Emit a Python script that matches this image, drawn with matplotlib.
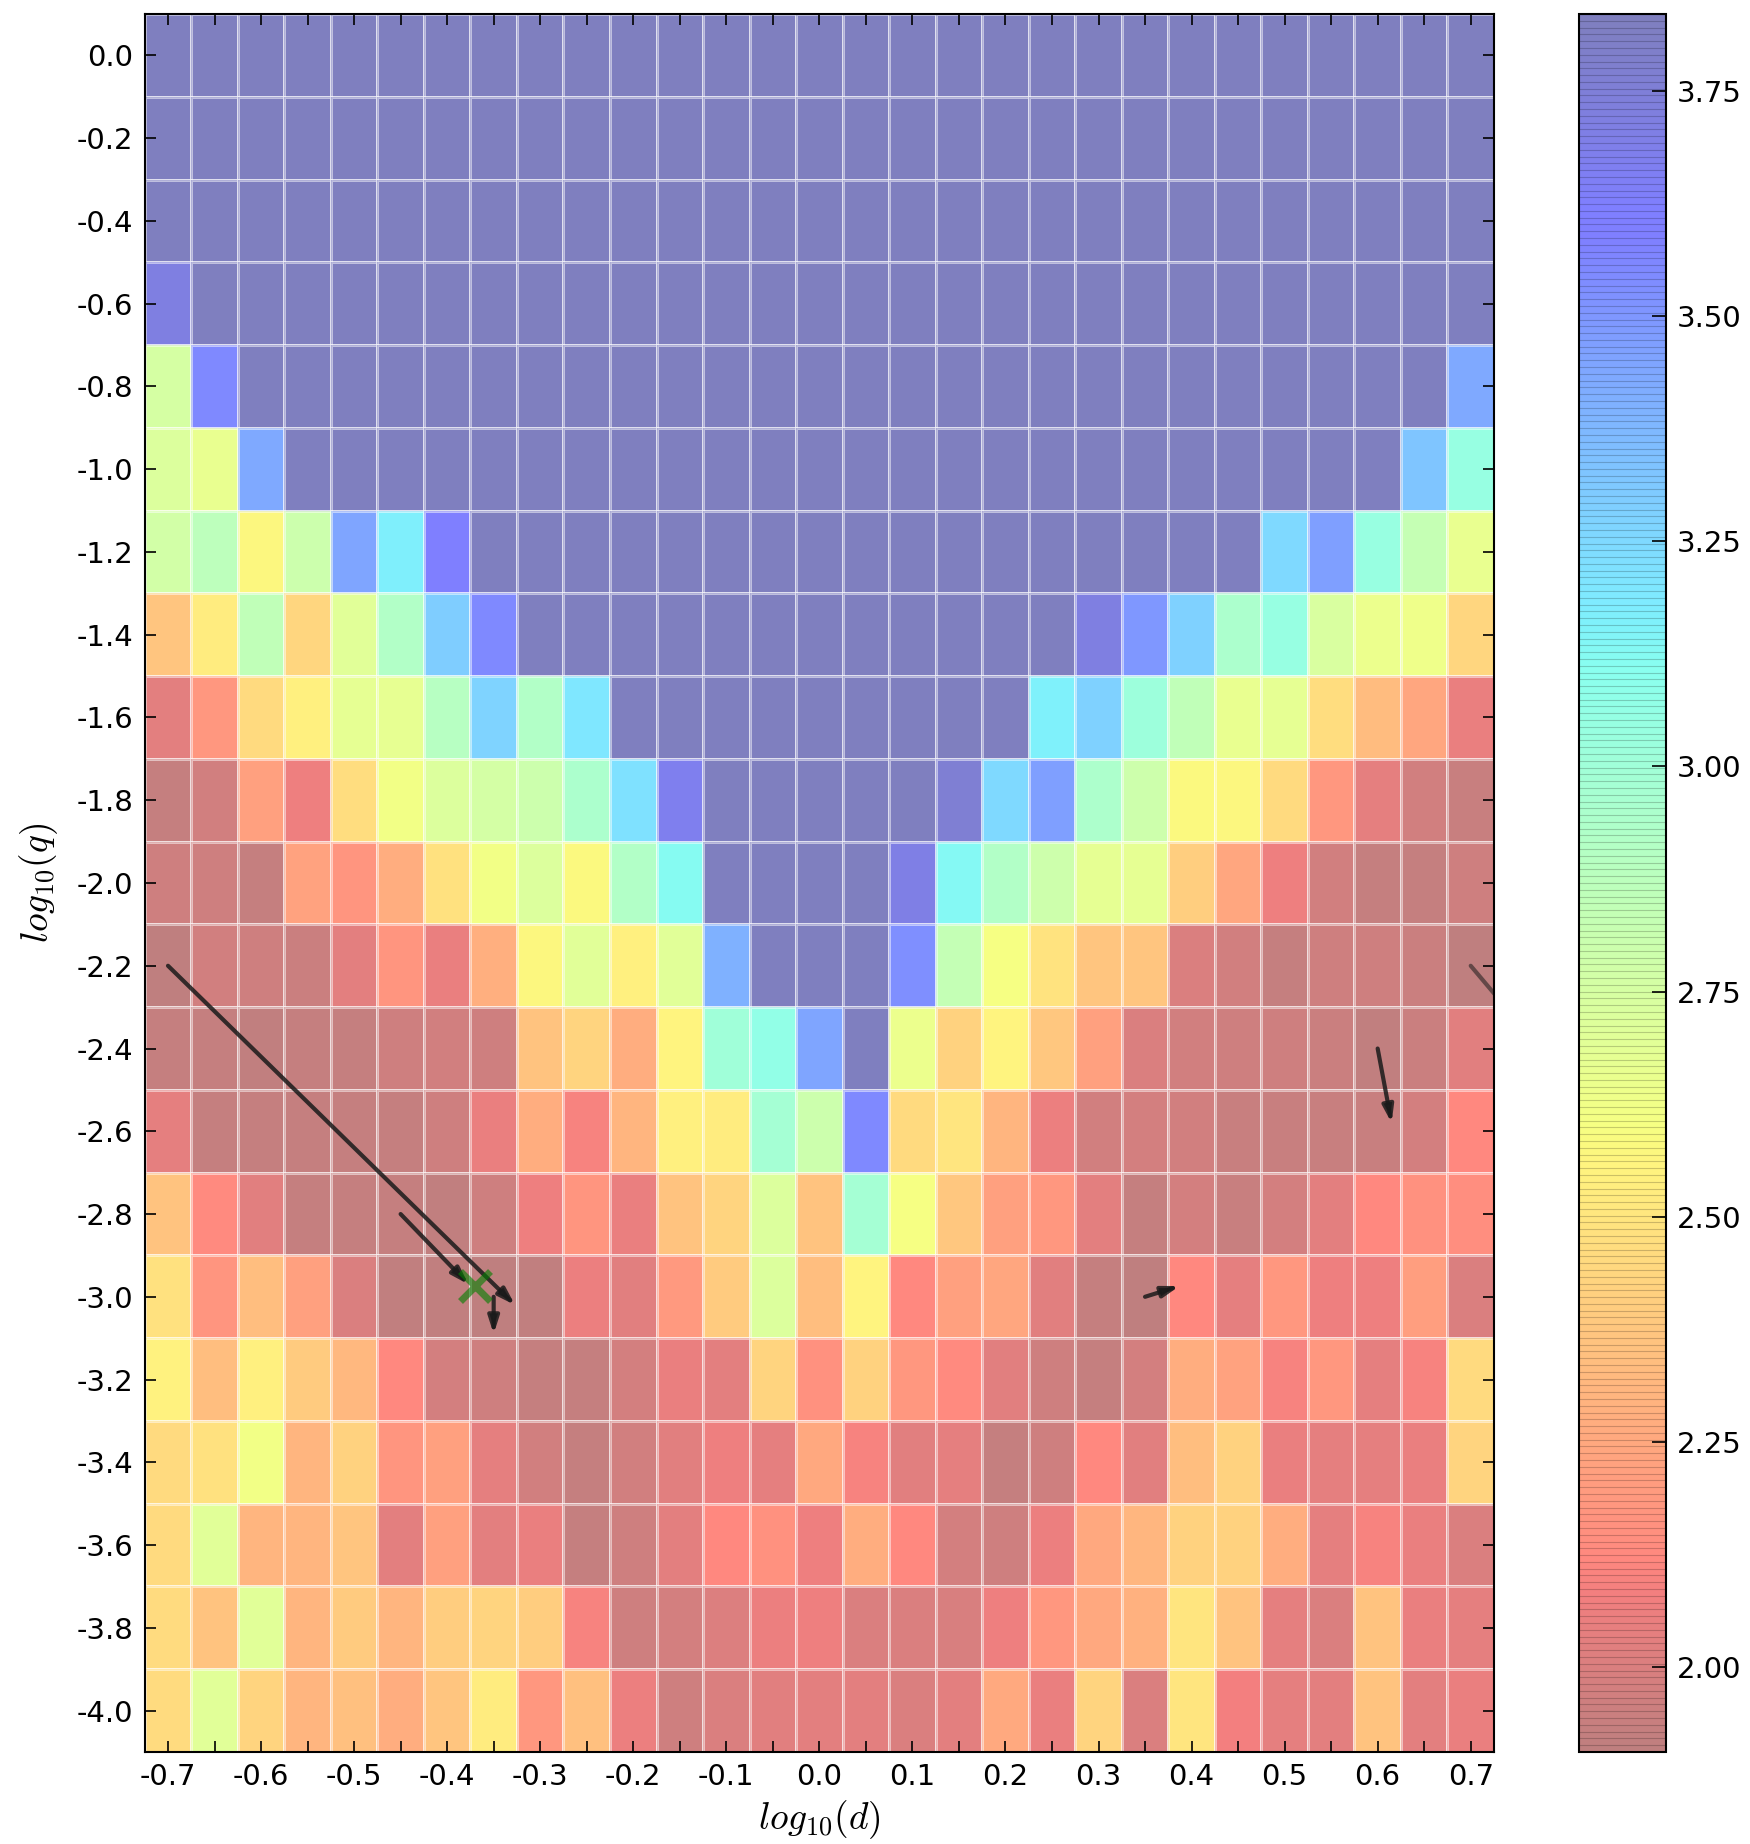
import numpy as np
import matplotlib
matplotlib.use("Agg")
import matplotlib.pyplot as plt
from matplotlib.patches import FancyArrowPatch

plt.rcParams['axes.unicode_minus'] = False
plt.rcParams['mathtext.fontset'] = 'cm'
plt.rcParams['font.family'] = ['DejaVu Sans']

# cell centres
log_d = [round(-0.7 + 0.05 * i, 2) for i in range(29)]
log_q = [round(-0.2 * j, 1) for j in range(21)]

P = 3.835  # saturated (top of colour scale)
values = [
    [P] * 29,
    [P] * 29,
    [P] * 29,
    [3.72] + [P] * 28,
    [2.75, 3.55] + [P] * 26 + [3.43],
    [2.72, 2.66, 3.43] + [P] * 24 + [3.33, 3.05],
    [2.77, 2.87, 2.57, 2.80, 3.45, 3.17, 3.62] + [P] * 17 + [3.25, 3.47, 3.04, 2.83, 2.66],
    [2.37, 2.53, 2.85, 2.44, 2.70, 2.92, 3.30, 3.55] + [P] * 12
    + [3.72, 3.50, 3.28, 2.95, 3.05, 2.74, 2.65, 2.63, 2.44],
    [2.03, 2.18, 2.45, 2.54, 2.68, 2.67, 2.90, 3.27, 2.92, 3.20] + [P] * 9
    + [3.16, 3.28, 3.02, 2.85, 2.66, 2.68, 2.47, 2.33, 2.24, 2.05],
    [1.93, 1.97, 2.22, 2.07, 2.47, 2.62, 2.72, 2.76, 2.80, 2.95, 3.22, 3.67] + [P] * 5
    + [3.76, 3.25, 3.47, 2.94, 2.79, 2.58, 2.57, 2.45, 2.18, 2.04, 1.97, 1.94],
    [1.96, 1.96, 1.93, 2.23, 2.17, 2.27, 2.48, 2.62, 2.72, 2.58, 2.92, 3.12] + [P] * 4
    + [3.70, 3.13, 2.92, 2.79, 2.68, 2.68, 2.41, 2.24, 2.07, 1.97, 1.93, 1.93, 1.96],
    [1.91, 1.97, 1.96, 1.95, 2.03, 2.17, 2.05, 2.28, 2.57, 2.70, 2.54, 2.70, 3.40, P, P, P,
     3.53, 2.84, 2.60, 2.49, 2.37, 2.37, 2.00, 1.97, 1.93, 1.96, 1.96, 1.95, 1.91],
    [1.93, 1.93, 1.92, 1.93, 1.93, 1.96, 1.97, 1.96, 2.36, 2.43, 2.27, 2.56, 3.00, 3.07, 3.45, P,
     2.65, 2.42, 2.56, 2.38, 2.22, 2.00, 1.97, 1.96, 1.96, 1.95, 1.92, 1.95, 2.02],
    [2.04, 1.93, 1.93, 1.93, 1.93, 1.93, 1.96, 2.05, 2.27, 2.10, 2.30, 2.54, 2.53, 2.98, 2.80, 3.55,
     2.45, 2.50, 2.30, 2.06, 1.97, 1.98, 1.97, 1.94, 1.94, 1.94, 1.94, 1.98, 2.12],
    [2.36, 2.13, 2.02, 1.93, 1.93, 1.93, 1.92, 1.96, 2.07, 2.17, 2.05, 2.36, 2.43, 2.72, 2.36, 2.98,
     2.60, 2.38, 2.22, 2.18, 2.03, 1.93, 1.98, 1.94, 1.98, 2.03, 2.12, 2.16, 2.14],
    [2.48, 2.17, 2.34, 2.22, 2.00, 1.92, 1.92, 1.91, 1.92, 2.06, 2.02, 2.19, 2.39, 2.72, 2.34, 2.56,
     2.12, 2.22, 2.24, 2.02, 1.93, 1.91, 2.12, 2.04, 2.18, 2.07, 2.07, 2.21, 2.00],
    [2.55, 2.34, 2.54, 2.39, 2.32, 2.12, 1.98, 1.96, 1.93, 1.93, 1.98, 2.05, 2.03, 2.43, 2.16, 2.42,
     2.18, 2.13, 2.02, 1.96, 1.93, 1.98, 2.27, 2.23, 2.10, 2.18, 2.04, 2.10, 2.45],
    [2.45, 2.48, 2.62, 2.30, 2.42, 2.17, 2.22, 2.04, 1.97, 1.93, 1.97, 2.02, 2.07, 2.04, 2.25, 2.10,
     2.02, 2.04, 1.93, 1.96, 2.12, 2.02, 2.34, 2.42, 2.05, 2.04, 2.04, 2.05, 2.43],
    [2.45, 2.70, 2.30, 2.30, 2.37, 2.03, 2.22, 2.03, 2.05, 1.93, 1.96, 2.03, 2.12, 2.16, 2.07, 2.27,
     2.12, 1.98, 1.96, 2.06, 2.25, 2.31, 2.42, 2.42, 2.27, 2.04, 2.10, 2.05, 2.00],
    [2.46, 2.36, 2.70, 2.30, 2.39, 2.30, 2.40, 2.43, 2.40, 2.10, 1.96, 1.98, 2.01, 2.06, 2.07, 2.00,
     2.00, 1.99, 2.07, 2.18, 2.25, 2.29, 2.50, 2.36, 2.04, 2.00, 2.36, 2.05, 2.04],
    [2.46, 2.70, 2.43, 2.30, 2.35, 2.27, 2.37, 2.53, 2.18, 2.35, 2.06, 1.96, 2.00, 2.02, 2.03, 2.03,
     2.00, 2.03, 2.26, 2.05, 2.43, 2.00, 2.50, 2.08, 2.04, 2.03, 2.36, 2.03, 2.05],
]
vmin, vmax = 1.906, 3.835

# step arrows (start -> end) and the optimum marker
arrow_start = [(-0.70, -2.20), (-0.45, -2.80), (-0.35, -3.00), (0.35, -3.00), (0.60, -2.40), (0.70, -2.20)]
arrow_end = [(-0.327, -3.02), (-0.377, -2.97), (-0.35, -3.09), (0.387, -2.974), (0.615, -2.58), (0.76, -2.36)]
best = (-0.37, -2.975)

Z = np.array(values)
x = np.array(log_d)
y = np.array(log_q)
xe = np.append(x - 0.025, x[-1] + 0.025)
ye = np.append(y + 0.1, y[-1] - 0.1)

fig = plt.figure(figsize=(17.5, 18.44), dpi=100)
ax = fig.add_axes([0.0827, 0.0499, 0.771, 0.9425])
cax = fig.add_axes([0.9023, 0.0499, 0.0497, 0.9425])

mesh = ax.pcolormesh(xe, ye, Z, cmap='jet_r', vmin=vmin, vmax=vmax, alpha=0.5,
                     edgecolors='white', linewidth=2)
ax.set_xlim(xe[0], xe[-1])
ax.set_ylim(ye[-1], ye[0])

for (x0, y0), (x1, y1) in zip(arrow_start, arrow_end):
    a = 0.55 if x0 > 0.65 else 0.85
    arr = FancyArrowPatch((x0, y0), (x1, y1),
                          arrowstyle='-|>,head_length=0.5,head_width=0.16',
                          color='#1a1a1a', lw=3, alpha=a,
                          shrinkA=0, shrinkB=0, mutation_scale=20)
    ax.add_patch(arr)
ax.plot([best[0]], [best[1]], 'x', color='green', alpha=0.6, markersize=22, mew=5)

ax.set_xticks(x)
ax.set_xticklabels(['%.1f' % v if i % 2 == 0 else '' for i, v in enumerate(x)])
ax.set_yticks(y)
ax.set_yticklabels(['%.1f' % (v if abs(v) > 1e-9 else 0.0) for v in y])
ax.tick_params(direction='in', top=True, right=True, length=8, width=1.2,
               labelsize=21, pad=8)
for s in ax.spines.values():
    s.set_linewidth(1.5)

ax.set_xlabel('$log_{10}(d)$', fontsize=27, labelpad=5)
ax.set_ylabel('$log_{10}(q)$', fontsize=27, labelpad=12)

cb = fig.colorbar(mesh, cax=cax)
cb.set_ticks([2.0, 2.25, 2.5, 2.75, 3.0, 3.25, 3.5, 3.75])
cb.set_ticklabels(['2.00', '2.25', '2.50', '2.75', '3.00', '3.25', '3.50', '3.75'])
cax.tick_params(direction='in', length=10, width=1.2, labelsize=21, pad=8)
cax.hlines(np.linspace(vmin, vmax, 257), 0, 1, colors='k', alpha=0.2, linewidth=0.8)
cb.outline.set_linewidth(1.5)

fig.savefig('out.png', dpi=100)
